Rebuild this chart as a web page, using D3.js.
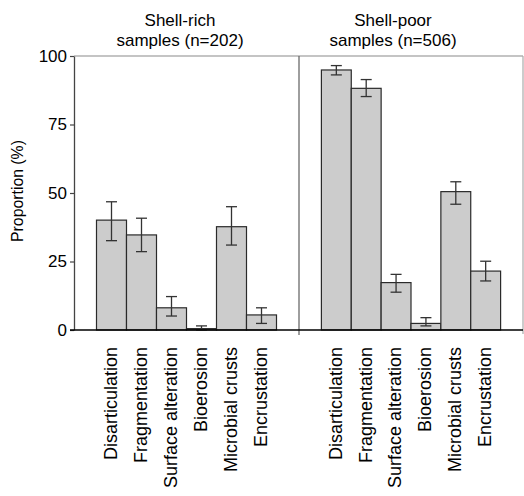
<!DOCTYPE html>
<html>
<head>
<meta charset="utf-8">
<script src="https://cdn.jsdelivr.net/npm/d3@7"></script>
<style>
  html, body { margin: 0; padding: 0; background: #fff; }
  svg { display: block; font-family: Arial, "Liberation Sans", sans-serif; }
</style>
</head>
<body>
<svg id="chart" width="524" height="496"></svg>
<script>
// ---- data ----
const categories = ["Disarticulation", "Fragmentation", "Surface alteration", "Bioerosion", "Microbial crusts", "Encrustation"];
const panelTitles = [["Shell-rich", "samples (n=202)"], ["Shell-poor", "samples (n=506)"]];
const richValues = [40.1, 34.7, 8.1, 0.5, 37.7, 5.5];
const richLower  = [32.6, 28.6, 5.1, 0.0, 31.0, 2.4];
const richUpper  = [46.8, 40.8, 12.2, 1.5, 45.0, 8.1];
const poorValues = [94.9, 88.2, 17.3, 2.4, 50.5, 21.5];
const poorLower  = [93.1, 85.2, 13.8, 1.5, 45.9, 17.9];
const poorUpper  = [96.5, 91.4, 20.3, 4.5, 54.1, 25.1];
const yTicks = [0, 25, 50, 75, 100];
const yLabel = "Proportion (%)";

const panels = [
  { title: panelTitles[0], values: richValues, lower: richLower, upper: richUpper },
  { title: panelTitles[1], values: poorValues, lower: poorLower, upper: poorUpper }
];

// ---- layout ----
const svg = d3.select("#chart");
const pLeft = 74, pMid = 299, pRight = 523, pTop = 56, pBottom = 330;
const panelRanges = [[pLeft, pMid], [pMid, pRight]];
const titleX = [180, 393];

const y = d3.scaleLinear().domain([0, 100]).range([pBottom, pTop]);

// frame (gray)
svg.append("line").attr("x1", pLeft).attr("x2", pRight).attr("y1", pTop).attr("y2", pTop)
  .attr("stroke", "#8a8a8a").attr("stroke-width", 1.2);
svg.append("line").attr("x1", pRight).attr("x2", pRight).attr("y1", pTop).attr("y2", pBottom + 4)
  .attr("stroke", "#aaaaaa").attr("stroke-width", 1.2);
svg.append("line").attr("x1", pMid).attr("x2", pMid).attr("y1", pTop).attr("y2", pBottom + 5)
  .attr("stroke", "#6a6a6a").attr("stroke-width", 1.3);

// y axis
const yAxis = svg.append("g").attr("transform", `translate(${pLeft},0)`)
  .call(d3.axisLeft(y).tickValues(yTicks).tickSize(4).tickPadding(3).tickSizeOuter(0));
yAxis.select(".domain").attr("stroke", "#444").attr("stroke-width", 1.3);
yAxis.selectAll(".tick line").attr("stroke", "#444").attr("stroke-width", 1.2);
yAxis.selectAll(".tick text").attr("font-size", 17).attr("fill", "#000")
  .attr("font-family", 'Arial, "Liberation Sans", sans-serif');

svg.append("text")
  .attr("transform", `translate(23,191) rotate(-90)`)
  .attr("text-anchor", "middle")
  .attr("font-size", 15.8)
  .attr("fill", "#000")
  .text(yLabel);

panels.forEach((p, i) => {
  const x = d3.scaleBand().domain(categories).range(panelRanges[i]).paddingInner(0).paddingOuter(0.75);
  const g = svg.append("g");

  g.selectAll("rect").data(categories).join("rect")
    .attr("x", d => x(d))
    .attr("width", x.bandwidth())
    .attr("y", (d, j) => y(p.values[j]))
    .attr("height", (d, j) => y(0) - y(p.values[j]))
    .attr("fill", "#cccccc")
    .attr("stroke", "#2a2a2a")
    .attr("stroke-width", 1.2);

  const cap = 5.5;
  const eg = g.selectAll("g.err").data(categories).join("g").attr("class", "err")
    .attr("stroke", "#333").attr("stroke-width", 1.3);
  eg.append("line")
    .attr("x1", d => x(d) + x.bandwidth() / 2).attr("x2", d => x(d) + x.bandwidth() / 2)
    .attr("y1", (d, j) => y(p.lower[j])).attr("y2", (d, j) => y(p.upper[j]));
  eg.append("line")
    .attr("x1", d => x(d) + x.bandwidth() / 2 - cap).attr("x2", d => x(d) + x.bandwidth() / 2 + cap)
    .attr("y1", (d, j) => y(p.upper[j])).attr("y2", (d, j) => y(p.upper[j]));
  eg.append("line")
    .attr("x1", d => x(d) + x.bandwidth() / 2 - cap).attr("x2", d => x(d) + x.bandwidth() / 2 + cap)
    .attr("y1", (d, j) => y(p.lower[j])).attr("y2", (d, j) => y(p.lower[j]));

  // category labels
  g.selectAll("text.cat").data(categories).join("text").attr("class", "cat")
    .attr("transform", d => `translate(${x(d) + x.bandwidth() / 2 - 1},347) rotate(-90)`)
    .attr("text-anchor", "end")
    .attr("dy", "0.35em")
    .attr("font-size", 18)
    .attr("fill", "#000")
    .text(d => d);

  // title
  const t = svg.append("text").attr("text-anchor", "middle").attr("font-size", 17).attr("fill", "#000");
  t.append("tspan").attr("x", titleX[i]).attr("y", 26).text(p.title[0]);
  t.append("tspan").attr("x", titleX[i]).attr("y", 46).text(p.title[1]);
});

// x axis baseline (black)
svg.append("line").attr("x1", pLeft - 4).attr("x2", pRight).attr("y1", pBottom).attr("y2", pBottom)
  .attr("stroke", "#000").attr("stroke-width", 1.3);
</script>
</body>
</html>
